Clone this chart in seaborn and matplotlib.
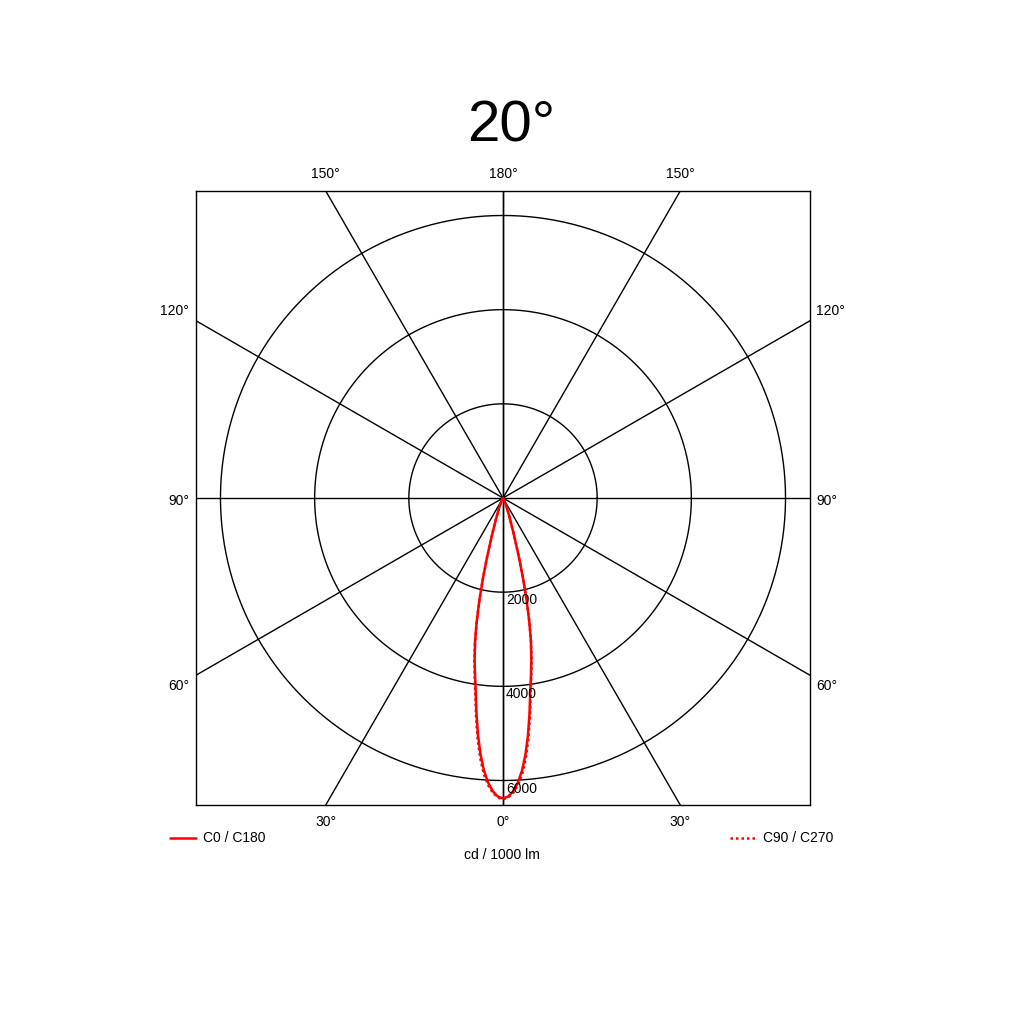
import numpy as np
import pandas as pd
import seaborn as sns
import matplotlib.pyplot as plt
from matplotlib.lines import Line2D

# Photometric data (cd / 1000 lm), gamma in 1 degree steps
gamma = list(range(0, 31)) + [40, 90]
c0_c180 = [6380, 6340, 6230, 6050, 5800, 5470, 5070, 4620, 4160, 3800,
           3470, 3110, 2690, 2230, 1760, 1320, 960, 700, 520, 400,
           310, 240, 180, 130, 90, 60, 38, 22, 12, 6, 0, 0, 0]
c90_c270 = [6400, 6360, 6260, 6100, 5870, 5550, 5150, 4690, 4220, 3840,
            3490, 3120, 2700, 2235, 1765, 1320, 960, 700, 520, 400,
            310, 240, 180, 130, 90, 60, 38, 22, 12, 6, 0, 0, 0]

title = "20°"
rings = [2000, 4000, 6000]
spokes = [0, 30, 60, 90, 120, 150, 180]
unit_label = "cd / 1000 lm"

sns.set_style("white")
plt.rcParams['font.family'] = ['Liberation Sans', 'DejaVu Sans']
plt.rcParams['text.color'] = 'black'

R = 6520  # half width of the frame in cd
px = R / 307.0  # cd per pixel


def to_xy(values):
    # left half mirrors right half: go from 90 down to 0 on the left, then 0 up to 90 on the right
    g = np.radians(np.array(gamma, dtype=float))
    v = np.array(values, dtype=float)
    x = np.concatenate([-v[::-1] * np.sin(g[::-1]), v * np.sin(g)])
    y = np.concatenate([-v[::-1] * np.cos(g[::-1]), -v * np.cos(g)])
    return pd.DataFrame({'x': x, 'y': y})


fig = plt.figure(figsize=(10.24, 10.24), dpi=100)
ax = fig.add_axes([196 / 1024, 219 / 1024, 614 / 1024, 614 / 1024])

# grid: rings and spokes
t = np.linspace(0, 2 * np.pi, 400)
for r in rings:
    ax.plot(r * np.cos(t), r * np.sin(t), color='black', lw=1.0, zorder=1)
    ax.text(60, -r - 8 * px, str(r), ha='left', va='center', fontsize=10, zorder=4)
for a in spokes:
    ar = np.radians(a)
    for s in (-1, 1):
        ax.plot([0, s * 12000 * np.sin(ar)], [0, -12000 * np.cos(ar)], color='black', lw=1.0, zorder=1)

# curves
df0 = to_xy(c0_c180)
df90 = to_xy(c90_c270)
sns.lineplot(data=df90, x='x', y='y', sort=False, estimator=None, color='red', lw=1.8,
             ax=ax, zorder=3).lines[-1].set_dashes([1, 1.2])
sns.lineplot(data=df0, x='x', y='y', sort=False, estimator=None, color='red', lw=1.8, ax=ax, zorder=3)

ax.set_xlim(-R, R)
ax.set_ylim(-R, R)
ax.set_aspect('equal')
ax.set_xticks([])
ax.set_yticks([])
ax.set_xlabel('')
ax.set_ylabel('')
for sp in ax.spines.values():
    sp.set_visible(True)
    sp.set_color('black')
    sp.set_linewidth(1.0)

# angle labels around the frame
fs = 10
for a in (0, 30):
    x = R * np.tan(np.radians(a))
    for s in ((-1, 1) if a else (1,)):
        ax.text(s * x, -R - 17 * px, f"{a}°", ha='center', va='center', fontsize=fs, clip_on=False)
for a in (150, 180):
    x = R * np.tan(np.radians(180 - a))
    for s in ((-1, 1) if a != 180 else (1,)):
        ax.text(s * x, R + 17 * px, f"{a}°", ha='center', va='center', fontsize=fs, clip_on=False)
side = {60: ('top', -R / np.tan(np.radians(60)) - 4 * px),
        90: ('center', -3 * px),
        120: ('bottom', R / np.tan(np.radians(60)) + 3 * px)}
for a, (va, y) in side.items():
    ax.text(-R - 7 * px, y, f"{a}°", ha='right', va=va, fontsize=fs, clip_on=False)
    ax.text(R + 6 * px, y, f"{a}°", ha='left', va=va, fontsize=fs, clip_on=False)

# title, legend and unit
fig.text(511 / 1024, 1 - 126 / 1024, title, ha='center', va='center', fontsize=42)
fig.add_artist(Line2D([170 / 1024, 196 / 1024], [1 - 838 / 1024] * 2, color='red', lw=1.8))
fig.text(203 / 1024, 1 - 838 / 1024, "C0 / C180", ha='left', va='center', fontsize=fs)
fig.add_artist(Line2D([730 / 1024, 757 / 1024], [1 - 838 / 1024] * 2, color='red', lw=1.8,
                      dashes=[1, 1.2]))
fig.text(763 / 1024, 1 - 838 / 1024, "C90 / C270", ha='left', va='center', fontsize=fs)
fig.text(502 / 1024, 1 - 855 / 1024, unit_label, ha='center', va='center', fontsize=fs)

fig.savefig('out.png', dpi=100)
